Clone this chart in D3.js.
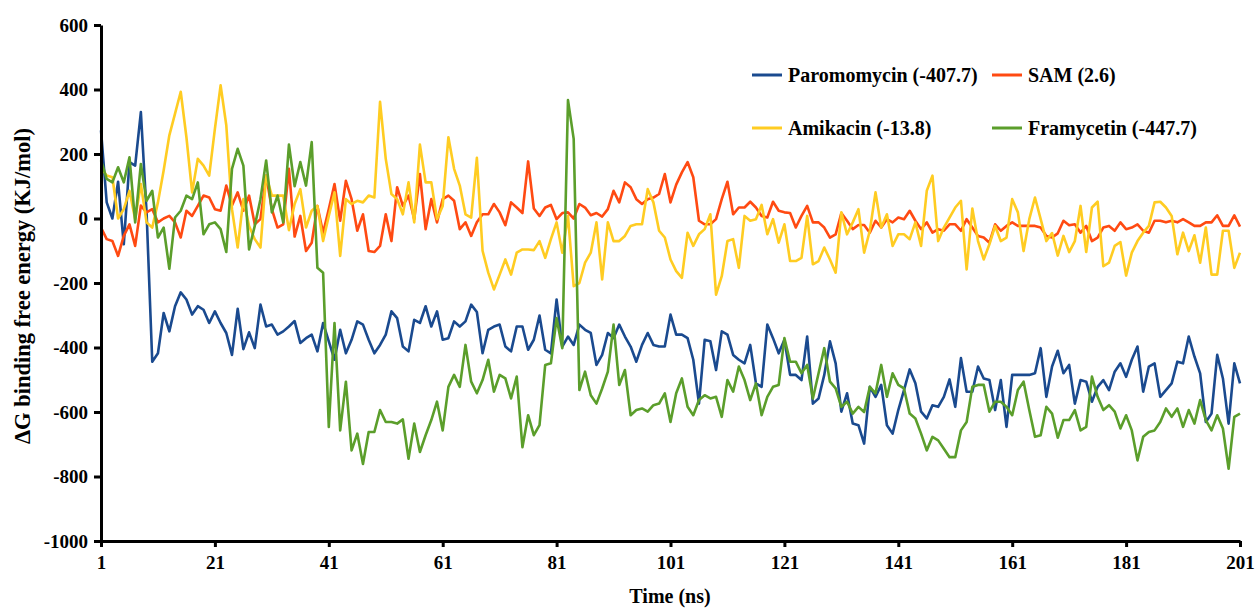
<!DOCTYPE html>
<html><head><meta charset="utf-8">
<script src="https://cdn.jsdelivr.net/npm/d3@7/dist/d3.min.js"></script>
<style>
html,body{margin:0;padding:0;background:#fff;}
svg{display:block;}
svg text{font-family:"Liberation Serif","Times New Roman",serif !important;font-weight:bold;fill:#000;}
</style></head>
<body>
<svg id="chart" width="1255" height="608" font-family="Liberation Serif"></svg>
<script>
const seriesNames = ["Paromomycin (-407.7)", "SAM (2.6)", "Amikacin (-13.8)", "Framycetin (-447.7)"];
const seriesColors = ["#1a4a8f", "#ff4a12", "#ffcc22", "#5b9e2b"];
const xTicks = [1,21,41,61,81,101,121,141,161,181,201];
const yTicks = [-1000,-800,-600,-400,-200,0,200,400,600];

const paromomycin = [273,50,0,114,-80,175,164,330,20,-444,
-418,-293,-350,-272,-229,-251,-298,-272,-283,-324,
-288,-324,-355,-423,-280,-405,-353,-402,-267,-335,
-329,-360,-350,-335,-318,-386,-371,-360,-412,-324,
-381,-438,-345,-418,-376,-319,-329,-376,-418,-392,
-360,-288,-309,-397,-412,-314,-324,-272,-335,-288,
-376,-371,-319,-335,-319,-267,-290,-418,-345,-335,
-329,-397,-412,-335,-335,-407,-376,-301,-407,-418,
-251,-397,-366,-392,-329,-345,-355,-454,-423,-355,
-371,-329,-366,-397,-444,-392,-355,-392,-397,-397,
-298,-360,-360,-371,-438,-574,-376,-381,-470,-350,
-360,-423,-438,-449,-392,-511,-522,-329,-371,-418,
-376,-485,-485,-501,-366,-574,-558,-485,-381,-449,
-599,-542,-636,-641,-698,-522,-553,-516,-641,-667,
-594,-532,-468,-511,-599,-620,-579,-584,-553,-499,
-584,-433,-537,-537,-459,-496,-501,-594,-501,-646,
-485,-485,-485,-485,-480,-402,-553,-459,-410,-480,
-454,-574,-501,-506,-568,-522,-501,-532,-475,-449,
-491,-438,-397,-537,-459,-449,-553,-532,-511,-444,
-449,-366,-428,-480,-631,-605,-423,-496,-636,-449,-511];

const sam = [-28,-64,-70,-116,-54,-18,-85,40,19,29,
-12,0,8,-12,-59,24,8,39,71,65,
29,24,102,40,81,24,71,-18,-2,133,
29,-28,-18,154,-56,8,-101,-75,39,-44,
29,107,-7,117,60,-38,13,-101,-104,-85,
13,-70,97,39,71,-2,138,-33,60,-12,
60,71,55,-33,-12,-54,-12,13,13,45,
19,-21,50,34,17,177,31,8,34,42,
-2,17,19,0,45,34,10,17,6,29,
86,50,112,97,60,45,60,65,76,138,
50,105,143,175,128,-7,-18,-18,-2,60,
114,13,34,34,52,34,8,3,52,24,
19,17,-28,8,39,-12,-12,-28,-59,-49,
17,-7,-33,-20,-20,-44,-7,-28,-2,-12,
3,-2,24,-7,-33,-12,-44,-33,-38,-18,
-18,-38,-2,-28,-54,-59,-75,-18,-38,-23,
-12,-23,-23,-23,-23,-28,-54,-59,-46,-7,
-21,-18,-44,-23,-70,-59,-28,-23,-38,-12,
-33,-28,-18,-38,-44,-7,-7,-12,-7,-12,
-2,-12,-23,-23,-12,-12,10,-23,-23,10,-25];

const amikacin = [159,133,128,0,29,86,-2,107,-12,-28,
50,149,258,325,393,252,81,185,164,133,
278,413,289,29,-90,60,-23,-64,-90,133,
71,71,71,-36,45,91,-28,24,39,-70,
8,81,-116,60,45,55,50,71,65,362,
185,76,60,13,112,-12,229,112,112,-2,
39,252,154,102,13,3,188,-100,-168,-220,
-174,-127,-174,-106,-96,-96,-98,-70,-122,-64,
-12,-106,8,-210,-200,-137,-106,-12,-189,-12,
-70,-70,-54,-23,-18,-18,91,50,-38,-59,
-127,-163,-184,-44,-85,-49,-33,13,-236,-179,
-70,-64,-153,8,-7,-2,42,-49,-2,-75,
-18,-132,-132,-122,8,-142,-132,-90,-127,-168,
19,-49,-12,29,-106,-38,81,-28,13,-85,
-49,-49,-64,-12,-85,86,133,-70,-28,3,
34,55,-158,31,-70,-127,-80,-23,-70,-59,
60,19,-101,-2,65,-2,-70,-45,-115,-54,
-104,-70,39,-104,34,52,-148,-137,-85,-73,
-177,-106,-70,-44,-23,50,52,34,8,-111,
-44,-101,-52,-137,-28,-174,-174,-38,-38,-153,-106];

const framycetin = [180,123,112,159,112,190,-12,169,55,86,
-59,-28,-156,3,24,71,60,112,-49,-18,
-12,-33,-104,154,216,164,-96,-23,60,180,
19,71,-12,229,100,175,102,237,-153,-168,
-646,-324,-657,-506,-719,-667,-761,-662,-662,-594,
-631,-631,-636,-623,-745,-636,-724,-672,-625,-568,
-657,-522,-485,-522,-392,-506,-542,-501,-438,-537,
-485,-496,-558,-490,-709,-610,-672,-641,-454,-449,
-309,-402,367,247,-532,-475,-548,-574,-527,-475,
-329,-516,-470,-610,-594,-589,-599,-579,-574,-542,
-631,-542,-496,-584,-610,-563,-548,-558,-553,-615,
-501,-537,-459,-501,-563,-511,-610,-553,-522,-516,
-371,-444,-444,-480,-454,-558,-480,-402,-506,-527,
-584,-568,-605,-584,-600,-522,-542,-454,-553,-480,
-516,-527,-605,-620,-667,-719,-677,-688,-714,-740,
-740,-657,-631,-522,-516,-516,-599,-568,-568,-584,
-610,-532,-506,-594,-677,-672,-584,-605,-680,-625,
-625,-594,-657,-646,-490,-553,-594,-579,-599,-651,
-610,-657,-750,-677,-662,-657,-631,-589,-615,-589,
-646,-594,-636,-563,-625,-657,-610,-651,-776,-615,-605];

const seriesValues = [paromomycin, sam, amikacin, framycetin];

const svg = d3.select("#chart");
const x = d3.scaleLinear().domain([1, 201]).range([101, 1240]);
const y = d3.scaleLinear().domain([-1000, 600]).range([541, 25]);

// lines
const line = d3.line().x((d, i) => x(i + 1)).y(d => y(d)).curve(d3.curveLinear);
seriesValues.forEach((vals, k) => {
  svg.append("path").datum(vals)
    .attr("d", line)
    .attr("fill", "none")
    .attr("stroke", seriesColors[k])
    .attr("stroke-width", 2.6)
    .attr("stroke-linejoin", "round");
});

// axes
const fmt = d => String(d);
const yAxis = d3.axisLeft(y).tickValues(yTicks).tickFormat(fmt).tickSize(7).tickSizeOuter(0).tickPadding(6);
const xAxis = d3.axisBottom(x).tickValues(xTicks).tickFormat(fmt).tickSize(6).tickSizeOuter(0).tickPadding(9);

const gy = svg.append("g").attr("transform", "translate(101,0)").call(yAxis);
const gx = svg.append("g").attr("transform", "translate(0,541)").call(xAxis);
[gx, gy].forEach(g => {
  g.attr("font-family", "Liberation Serif").attr("font-size", 19).attr("font-weight", "bold");
  g.select(".domain").attr("stroke", "#000").attr("stroke-width", 3);
  g.selectAll(".tick line").attr("stroke", "#000").attr("stroke-width", 3);
  g.selectAll(".tick text").attr("fill", "#000").style("font-size", "19px");
});

// axis titles
svg.append("text").attr("x", 670).attr("y", 603).attr("text-anchor", "middle")
  .style("font-size", "20px").text("Time (ns)");
svg.append("text").attr("transform", "translate(30,286) rotate(-90)").attr("text-anchor", "middle")
  .style("font-size", "22.5px").text("ΔG binding free energy (KJ/mol)");

// legend
const legendPos = [[752, 75], [992, 75], [752, 128], [992, 128]];
seriesNames.forEach((name, k) => {
  const [lx, ly] = legendPos[k];
  svg.append("line").attr("x1", lx).attr("x2", lx + 30).attr("y1", ly).attr("y2", ly)
    .attr("stroke", seriesColors[k]).attr("stroke-width", 3);
  svg.append("text").attr("x", lx + 36).attr("y", ly + 7).style("font-size", "20px").text(name);
});
</script>
</body></html>
